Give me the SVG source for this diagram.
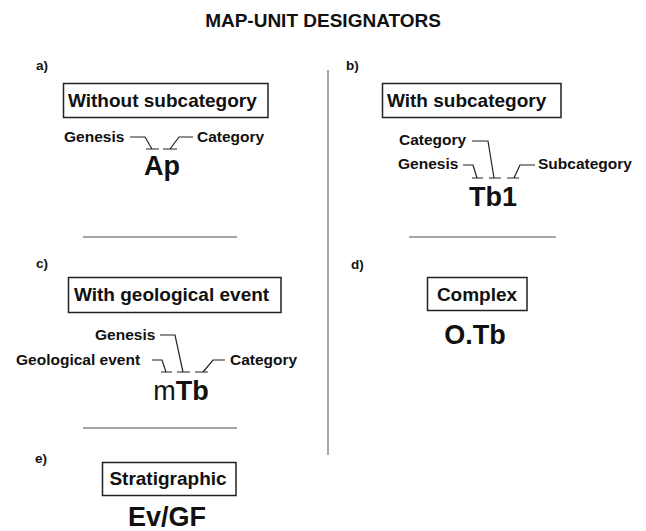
<svg xmlns="http://www.w3.org/2000/svg" width="646" height="531" viewBox="0 0 646 531">
<style>
text{font-family:"Liberation Sans",Arial,sans-serif;fill:#111}
.title{font-size:19px;font-weight:bold}
.tag{font-size:13.5px;font-weight:bold}
.box{fill:#fff;stroke:#222;stroke-width:1.5}
.bt{font-size:19px;font-weight:bold}
.lbl{font-size:15.5px;font-weight:bold}
.code{font-size:27px;font-weight:bold}
.sep{stroke:#888;stroke-width:1.5}
.con{fill:none;stroke:#222;stroke-width:1.2}
</style>
<rect width="646" height="531" fill="#fff"/>
<text class="title" x="323" y="27" text-anchor="middle">MAP-UNIT DESIGNATORS</text>

<g id="dividers">
<line class="sep" x1="328" y1="70" x2="328" y2="455"/>
<line class="sep" x1="83" y1="237" x2="237" y2="237"/>
<line class="sep" x1="409" y1="237" x2="556" y2="237"/>
<line class="sep" x1="83" y1="428" x2="237" y2="428"/>
</g>

<g id="panel-a">
<text class="tag" x="36" y="70">a)</text>
<rect class="box" x="63.5" y="83.5" width="204.5" height="34"/>
<text class="bt" x="68" y="107">Without subcategory</text>
<text class="lbl" x="64" y="142">Genesis</text>
<text class="lbl" x="197" y="142">Category</text>
<text class="code" x="162" y="175" text-anchor="middle">Ap</text>
</g>

<g id="panel-b">
<text class="tag" x="346" y="70">b)</text>
<rect class="box" x="382.5" y="83.5" width="178.5" height="34"/>
<text class="bt" x="387" y="107">With subcategory</text>
<text class="lbl" x="399" y="145">Category</text>
<text class="lbl" x="398" y="169">Genesis</text>
<text class="lbl" x="538" y="169">Subcategory</text>
<text class="code" x="493" y="206" text-anchor="middle">Tb1</text>
</g>

<g id="panel-c">
<text class="tag" x="36" y="268">c)</text>
<rect class="box" x="68.5" y="277.5" width="212.5" height="35"/>
<text class="bt" x="74" y="301">With geological event</text>
<text class="lbl" x="95" y="340">Genesis</text>
<text class="lbl" x="16" y="365">Geological event</text>
<text class="lbl" x="230" y="365">Category</text>
<text x="181" y="400" text-anchor="middle" style="font-size:27px"><tspan>m</tspan><tspan font-weight="bold">Tb</tspan></text>
</g>

<g id="panel-d">
<text class="tag" x="351" y="269">d)</text>
<rect class="box" x="427.5" y="277.5" width="99.5" height="33"/>
<text class="bt" x="477" y="301" text-anchor="middle">Complex</text>
<text class="code" x="475" y="344" text-anchor="middle">O.Tb</text>
</g>

<g id="panel-e">
<text class="tag" x="35" y="463">e)</text>
<rect class="box" x="102.5" y="462.5" width="133.5" height="33"/>
<text class="bt" x="168" y="485" text-anchor="middle">Stratigraphic</text>
<text x="167" y="526" text-anchor="middle" style="font-size:27px;font-weight:600">Ev/GF</text>
</g>

<g id="connectors">
<path class="con" d="M130 137 H145 L152 149 M146 149 H159"/>
<path class="con" d="M193 137 H179 L170 149 M163 149 H177"/>
<path class="con" d="M472 141 H488 L494 178 M489 178 H501"/>
<path class="con" d="M463 165 H473 L477 178 M472 178 H483"/>
<path class="con" d="M535 165 H520 L514 178 M507 178 H519"/>
<path class="con" d="M160 335 H175 L183 372 M177 372 H190"/>
<path class="con" d="M152 360 H162 L166 372 M161 372 H172"/>
<path class="con" d="M225 360 H213 L203 372 M195 372 H208"/>
</g>
</svg>
